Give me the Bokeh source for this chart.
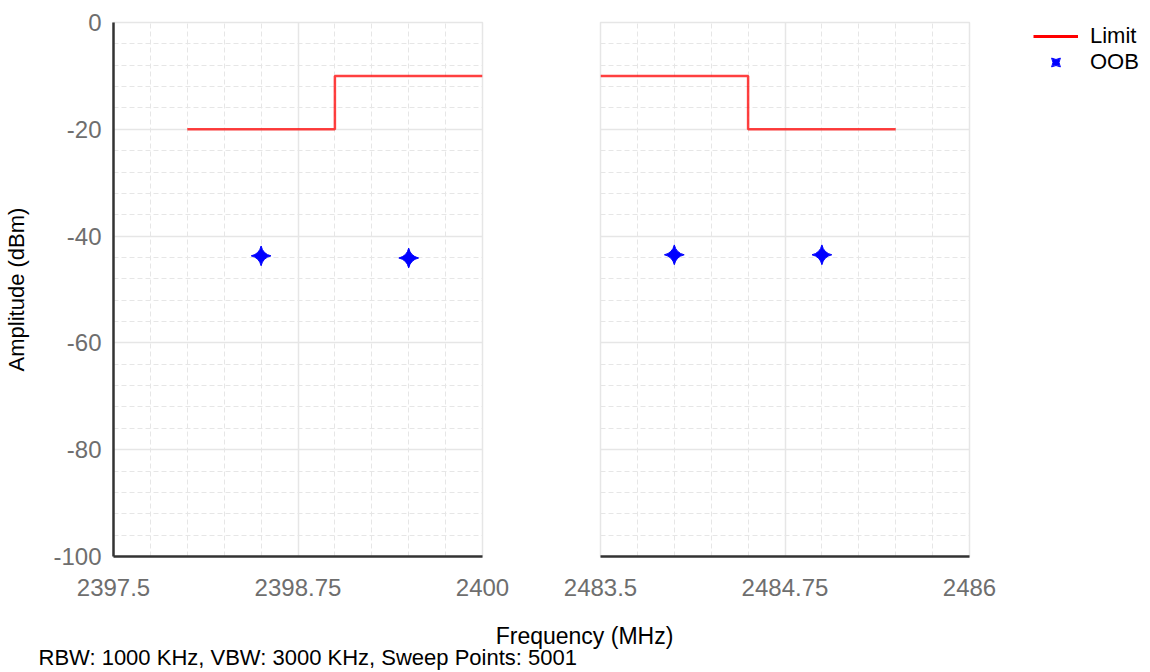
from bokeh.plotting import figure
from bokeh.models import Range1d, FixedTicker, Label, CustomJSTickFormatter
from bokeh.layouts import column, row
from bokeh.embed import file_html
from bokeh.resources import INLINE

# ---------------- data ----------------
limit_left_x = [2398.0, 2399.0, 2400.0]
limit_left_y = [-20, -10, -10]
limit_right_x = [2483.5, 2484.5, 2485.5]
limit_right_y = [-10, -20, -20]

oob_left_x = [2398.5, 2399.5]
oob_left_y = [-43.7, -44.1]
oob_right_x = [2484.0, 2485.0]
oob_right_y = [-43.5, -43.5]

x_ticks_left = [2397.5, 2398.75, 2400.0]
x_labels_left = ["2397.5", "2398.75", "2400"]
x_ticks_right = [2483.5, 2484.75, 2486.0]
x_labels_right = ["2483.5", "2484.75", "2486"]
y_ticks = [-100, -80, -60, -40, -20, 0]
y_labels = ["-100", "-80", "-60", "-40", "-20", "0"]

x_label = "Frequency (MHz)"
y_label = "Amplitude (dBm)"
footer = "RBW: 1000 KHz,  VBW: 3000 KHz,  Sweep Points: 5001"
series_names = ["Limit", "OOB"]

FONT = "Liberation Sans"
TICK_COLOR = "#6e6e6e"
GRID = "#e6e6e6"
AXIS = "#333333"
LIMIT_COLOR = "#ff0000"
OOB_COLOR = "#0000ff"


def minor(ticks, n):
    out = []
    for a, b in zip(ticks[:-1], ticks[1:]):
        step = (b - a) / n
        out += [a + step * k for k in range(1, n)]
    return out


def fmt(ticks, labels):
    return CustomJSTickFormatter(
        args=dict(tv=ticks, tl=labels),
        code="const i = tv.indexOf(tick); return i >= 0 ? tl[i] : tick.toString();",
    )


def style(p, xt, xl):
    p.x_range = Range1d(xt[0], xt[-1])
    p.outline_line_color = GRID
    p.outline_line_width = 1.5
    xtick = FixedTicker(ticks=xt, minor_ticks=minor(xt, 5))
    ytick = FixedTicker(ticks=y_ticks, minor_ticks=minor(y_ticks, 5))
    p.xaxis.ticker = xtick
    p.yaxis.ticker = ytick
    p.xgrid.ticker = xtick
    p.ygrid.ticker = ytick
    for g in (p.xgrid, p.ygrid):
        g.grid_line_color = GRID
        g.grid_line_width = 1.5
        g.minor_grid_line_color = GRID
        g.minor_grid_line_width = 1
        g.minor_grid_line_dash = "5 3"
    p.xaxis.formatter = fmt(xt, xl)
    p.yaxis.formatter = fmt(y_ticks, y_labels)
    for ax in (p.xaxis, p.yaxis):
        ax.axis_line_color = AXIS
        ax.axis_line_width = 2.5
        ax.major_tick_line_color = None
        ax.minor_tick_line_color = None
        ax.major_label_text_font = FONT
        ax.major_label_text_font_size = "24px"
        ax.major_label_text_color = TICK_COLOR
        ax.axis_label_text_font = FONT
        ax.axis_label_text_font_size = "22px"
        ax.axis_label_text_font_style = "normal"
        ax.axis_label_text_color = "#000000"
    p.xaxis.major_label_standoff = 16
    p.yaxis.major_label_standoff = 6


H1 = 610
TOP = 22
FRAME_H = 534
BOTTOM = H1 - TOP - FRAME_H

p1 = figure(width=541, height=H1, output_backend="svg", toolbar_location=None,
            y_range=Range1d(-100, 0), min_border_left=113, min_border_top=TOP,
            min_border_right=59, min_border_bottom=BOTTOM)
style(p1, x_ticks_left, x_labels_left)
p1.yaxis.axis_label = y_label
p1.yaxis.axis_label_standoff = 21
p1.step(limit_left_x, limit_left_y, mode="after", line_color=LIMIT_COLOR,
        line_width=2.5, line_alpha=0.75)
p1.scatter(oob_left_x, oob_left_y, marker="square_pin", size=14, angle=0.785398,
           fill_color=OOB_COLOR, line_color=OOB_COLOR)

p2 = figure(width=491, height=H1, output_backend="svg", toolbar_location=None,
            y_range=Range1d(-100, 0), min_border_left=59, min_border_top=TOP,
            min_border_right=63, min_border_bottom=BOTTOM)
style(p2, x_ticks_right, x_labels_right)
p2.yaxis.visible = False
p2.step(limit_right_x, limit_right_y, mode="after", line_color=LIMIT_COLOR,
        line_width=2.5, line_alpha=0.75)
p2.scatter(oob_right_x, oob_right_y, marker="square_pin", size=14, angle=0.785398,
           fill_color=OOB_COLOR, line_color=OOB_COLOR)

# legend panel: same series, drawn out of its view so only the legend shows
p4 = figure(width=116, height=H1, output_backend="svg", toolbar_location=None,
            x_range=Range1d(0, 1), y_range=Range1d(0, 1),
            x_axis_location=None, y_axis_location=None,
            min_border_left=0, min_border_right=0, min_border_top=0, min_border_bottom=0)
p4.outline_line_color = None
p4.xgrid.visible = False
p4.ygrid.visible = False
p4.step(limit_right_x, limit_right_y, mode="after", line_color=LIMIT_COLOR,
        line_width=3, legend_label=series_names[0])
p4.scatter(oob_right_x, oob_right_y, marker="square_pin", size=14, angle=0.785398,
           fill_color=OOB_COLOR, line_color=OOB_COLOR, legend_label=series_names[1])
lg = p4.legend[0]
lg.location = "top_left"
lg.border_line_alpha = 0
lg.background_fill_alpha = 0
lg.label_text_font = FONT
lg.label_text_font_size = "22px"
lg.label_text_color = "#000000"
lg.glyph_width = 45
lg.glyph_height = 22
lg.label_height = 24
lg.label_standoff = 12
lg.spacing = 0
lg.padding = 1
lg.margin = 0

H3 = 60
p3 = figure(width=1148, height=H3, output_backend="svg", toolbar_location=None,
            x_range=Range1d(0, 1), y_range=Range1d(0, 1),
            x_axis_location=None, y_axis_location=None,
            min_border_left=0, min_border_right=0, min_border_top=0, min_border_bottom=0)
p3.outline_line_color = None
p3.xgrid.visible = False
p3.ygrid.visible = False
p3.add_layout(Label(x=584, y=H3 + H1 - 635, x_units="screen", y_units="screen", text=x_label,
                    text_font=FONT, text_font_size="23px",
                    text_align="center", text_baseline="middle", text_color="#000000"))
p3.add_layout(Label(x=38, y=H3 + H1 - 657, x_units="screen", y_units="screen", text=footer,
                    text_font=FONT, text_font_size="22px",
                    text_align="left", text_baseline="middle", text_color="#000000"))

layout = column(row(p1, p2, p4), p3)
open("out.html", "w").write(file_html(layout, INLINE))
